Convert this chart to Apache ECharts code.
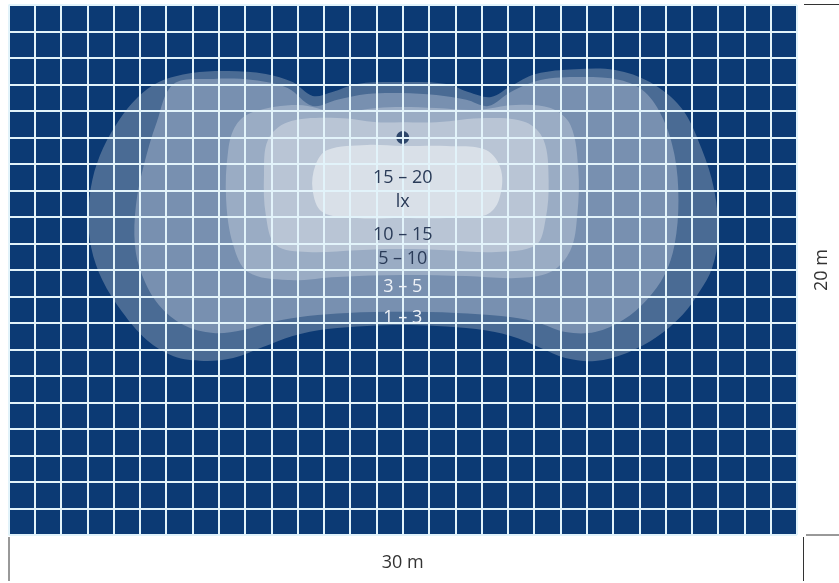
<!DOCTYPE html>
<html>
<head>
<meta charset="utf-8">
<script src="https://cdn.jsdelivr.net/npm/echarts@6/dist/echarts.min.js"></script>
<style>
html,body{margin:0;padding:0;background:#ffffff;}
#chart{width:839px;height:583px;}
</style>
</head>
<body>
<div id="chart"></div>
<script>
// Room size (m)
const roomWidth = 30;
const roomDepth = 20;

// Illuminance classes (outer to inner)
const levels = ['1 – 3', '3 – 5', '5 – 10', '10 – 15', '15 – 20'];
const levelColors = ['#4a6b94', '#7890b0', '#9aacc4', '#b9c5d5', '#d9e0e8'];

// Luminaire position [x m, y m from top wall]
const luminaire = [15, 5];

// Isolux contour vertices [x m, y m from top wall]
const contour1to3 = [
  [5.72,2.91],[6.96,2.57],[8.36,2.49],[9.79,2.60],[10.81,2.91],[11.57,3.43],[12.32,3.28],[13.26,2.98],
  [14.96,2.91],[16.66,2.98],[17.49,3.28],[18.36,3.47],[19.11,3.06],[20.06,2.60],[21.57,2.42],[23.08,2.45],
  [24.40,2.91],[25.60,3.89],[26.36,5.40],[26.85,6.98],[27.00,8.68],[26.77,9.92],[26.28,10.83],[25.64,11.70],
  [24.66,12.53],[23.53,13.13],[22.32,13.43],[21.19,13.32],[20.25,12.94],[19.11,12.49],[17.79,12.23],[16.28,12.11],
  [14.96,12.08],[13.64,12.11],[12.13,12.23],[10.81,12.49],[9.68,12.91],[8.55,13.32],[7.42,13.43],[6.28,13.25],
  [5.26,12.64],[4.32,11.58],[3.57,10.38],[3.15,9.17],[3.04,7.92],[3.19,6.60],[3.60,5.40],[4.21,4.34],[4.89,3.51]
];
const contour3to5 = [
  [6.28,2.98],[7.79,2.79],[9.30,2.83],[10.62,3.13],[11.57,3.81],[12.51,3.58],[13.64,3.36],[14.96,3.32],
  [16.28,3.40],[17.42,3.58],[18.25,3.81],[19.11,3.28],[20.25,2.83],[21.75,2.72],[23.26,2.83],[24.21,3.28],
  [24.89,4.26],[25.34,5.66],[25.49,7.36],[25.34,9.06],[24.96,10.19],[24.28,11.13],[23.38,11.89],[22.32,12.34],
  [21.19,12.34],[20.06,11.96],[18.74,11.74],[17.04,11.62],[14.96,11.58],[12.89,11.62],[11.38,11.74],[10.06,11.96],
  [8.92,12.26],[7.79,12.38],[6.66,12.08],[5.72,11.32],[5.08,10.19],[4.81,9.06],[4.85,7.55],[5.15,6.04],[5.64,4.42]
];
const contour5to10 = [
  [9.30,4.04],[11.00,3.77],[12.51,4.04],[14.02,3.89],[14.96,3.85],[16.28,3.89],[17.79,3.96],[19.30,3.77],
  [20.62,3.89],[21.38,4.53],[21.68,6.23],[21.64,7.92],[21.38,9.25],[20.62,10.08],[19.30,10.30],[17.42,10.23],
  [14.96,10.19],[12.51,10.26],[10.62,10.38],[9.11,10.08],[8.55,9.06],[8.28,7.36],[8.36,5.47],[8.66,4.53]
];
const contour10to15 = [
  [10.62,4.42],[12.51,4.26],[14.02,4.42],[14.96,4.42],[16.28,4.42],[18.17,4.26],[19.68,4.42],[20.36,5.09],
  [20.55,6.60],[20.43,8.11],[20.06,9.06],[18.55,9.32],[16.66,9.25],[14.96,9.21],[13.26,9.25],[11.38,9.32],
  [10.17,9.06],[9.79,7.92],[9.72,6.42],[9.87,5.09]
];
const contour15to20 = [
  [12.13,5.47],[13.64,5.28],[14.96,5.32],[16.66,5.32],[18.17,5.47],[18.74,6.23],[18.66,7.36],[18.17,7.92],
  [16.66,8.04],[14.96,8.04],[13.26,8.04],[11.94,7.81],[11.57,6.98],[11.68,6.04]
];
const contours = [contour1to3, contour3to5, contour5to10, contour10to15, contour15to20];

// Labels inside the room: text and anchor [x m, y m from top]
const labelTexts = ['15 – 20', 'lx', '10 – 15', '5 – 10', '3 – 5', '1 – 3'];
const labelX = [15, 15, 15, 15, 15, 15];
const labelY = [6.53, 7.43, 8.68, 9.58, 10.64, 11.81];
const labelColors = ['#2a3b58', '#2a3b58', '#2a3b58', '#2a3b58', '#eef2f7', '#eef2f7'];

const chart = echarts.init(document.getElementById('chart'), null, {renderer: 'canvas'});
const FONT = '"Open Sans", "Noto Sans", sans-serif';

const option = {
  animation: false,
  grid: {
    left: 8.5, top: 5, width: 795, height: 530,
    show: true, backgroundColor: '#0c3a74', borderWidth: 0
  },
  xAxis: {
    type: 'value', min: 0, max: roomWidth, interval: 1, z: 5,
    name: roomWidth + ' m', nameLocation: 'middle', nameGap: 19,
    nameTextStyle: {fontFamily: FONT, fontSize: 18, color: '#333333'},
    axisLine: {show: false}, axisTick: {show: false}, axisLabel: {show: false},
    splitLine: {show: true, lineStyle: {color: '#e2f3fa', width: 2}}
  },
  yAxis: {
    type: 'value', min: 0, max: roomDepth, interval: 1, inverse: true, position: 'right', z: 5,
    name: roomDepth + ' m', nameLocation: 'middle', nameGap: 16, nameRotate: 90,
    nameTextStyle: {fontFamily: FONT, fontSize: 18, color: '#333333'},
    axisLine: {show: false}, axisTick: {show: false}, axisLabel: {show: false},
    splitLine: {show: true, lineStyle: {color: '#e2f3fa', width: 2}}
  },
  series: [
    {
      type: 'custom',
      z: 1,
      silent: true,
      data: levels.map((l, i) => ({name: l, value: [i, i]})),
      renderItem: function (params, api) {
        const i = params.dataIndex;
        const pts = contours[i].map(p => api.coord(p));
        return {
          type: 'polygon',
          shape: {points: pts, smooth: 0.35},
          style: {fill: levelColors[i]}
        };
      }
    },
    {
      type: 'scatter',
      z: 2,
      silent: true,
      symbol: 'circle',
      symbolSize: 13,
      itemStyle: {color: '#0a2550'},
      data: [luminaire]
    },
    {
      type: 'custom',
      z: 6,
      silent: true,
      data: labelTexts.map((t, i) => ({name: t, value: [labelX[i], labelY[i]]})),
      renderItem: function (params, api) {
        const i = params.dataIndex;
        const p = api.coord([api.value(0), api.value(1)]);
        return {
          type: 'text',
          x: p[0], y: p[1],
          style: {
            text: labelTexts[i], fill: labelColors[i],
            font: '18px ' + FONT, align: 'center', verticalAlign: 'middle'
          }
        };
      }
    }
  ],
  graphic: [
    {type: 'line', silent: true, shape: {x1: 9, y1: 537, x2: 9, y2: 581}, style: {stroke: '#333', lineWidth: 1}},
    {type: 'line', silent: true, shape: {x1: 803.5, y1: 537, x2: 803.5, y2: 581}, style: {stroke: '#333', lineWidth: 1}},
    {type: 'line', silent: true, shape: {x1: 804, y1: 4.5, x2: 839, y2: 4.5}, style: {stroke: '#333', lineWidth: 1}},
    {type: 'line', silent: true, shape: {x1: 806, y1: 535, x2: 839, y2: 535}, style: {stroke: '#333', lineWidth: 1}}
  ]
};
chart.setOption(option);
</script>
</body>
</html>
